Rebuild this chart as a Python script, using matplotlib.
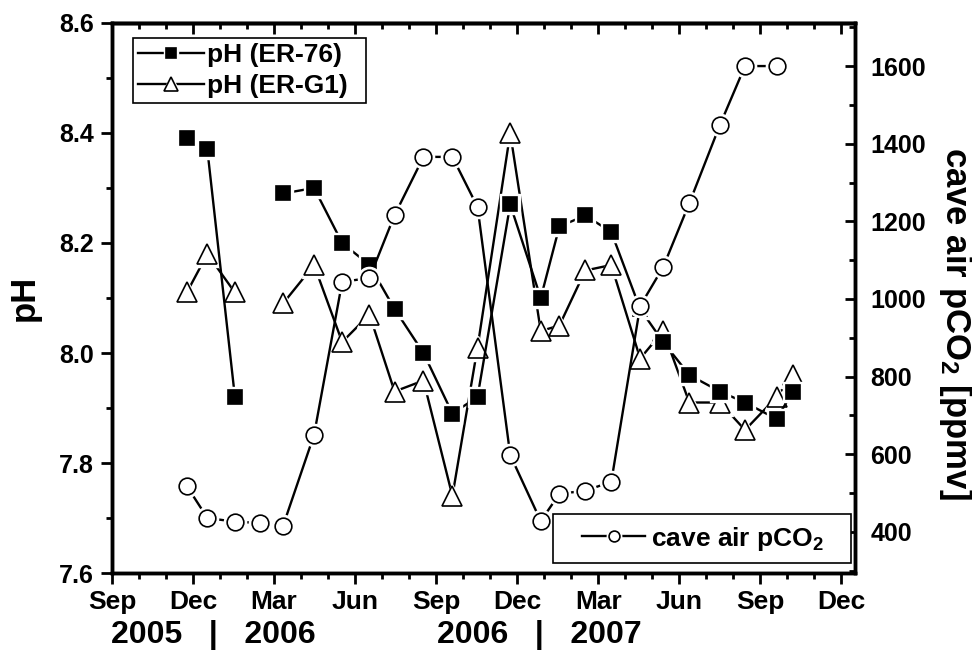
import numpy as np
import matplotlib.pyplot as plt
from matplotlib.ticker import MultipleLocator
from matplotlib.legend_handler import HandlerTuple

plt.rcParams['font.family'] = ['Liberation Sans', 'DejaVu Sans']
plt.rcParams['font.weight'] = 'bold'
plt.rcParams['axes.labelweight'] = 'bold'
plt.rcParams['mathtext.fontset'] = 'custom'
plt.rcParams['mathtext.rm'] = 'Liberation Sans:bold'
plt.rcParams['mathtext.default'] = 'rm'

# sampling dates, months after 1 Sep 2005
months = [2.77, 3.53, 4.55, 5.48, 6.33, 7.48, 8.52, 9.53, 10.46, 11.53, 12.6, 13.53,
          14.74, 15.87, 16.56, 17.52, 18.48, 19.55, 20.4, 21.37, 22.5, 23.43, 24.6, 25.2]
ph_er76 = [8.39, 8.37, 7.92, np.nan, 8.29, 8.30, 8.20, 8.16, 8.08, 8.00, 7.89, 7.92,
           8.27, 8.10, 8.23, 8.25, 8.22, 8.08, 8.02, 7.96, 7.93, 7.91, 7.88, 7.93]
ph_erg1 = [8.11, 8.18, 8.11, np.nan, 8.09, 8.16, 8.02, 8.07, 7.93, 7.95, 7.74, 8.01,
           8.40, 8.04, 8.05, 8.15, 8.16, 7.99, 8.04, 7.91, 7.91, 7.86, 7.92, 7.96]
pco2 = [518, 436, 426, 423, 415, 650, 1044, 1054, 1216, 1366, 1366, 1237,
        598, 428, 498, 506, 529, 982, 1082, 1247, 1448, 1600, 1600, np.nan]

tick_months = list(range(0, 28, 3))
tick_labels = ['Sep', 'Dec', 'Mar', 'Jun', 'Sep', 'Dec', 'Mar', 'Jun', 'Sep', 'Dec']
year_labels = ['2005   |   2006', '2006   |   2007']
year_pos = [3.74, 15.8]


def series(a, x, y, marker, ms, face):
    # line, white gap around marker, marker (Origin style)
    ln, = a.plot(x, y, '-', color='k', lw=1.7)
    halo, = a.plot(x, y, ls='none', marker=marker, ms=ms + 4, mfc='w', mec='w')
    mk, = a.plot(x, y, ls='none', marker=marker, ms=ms, mfc=face, mec='k', mew=1.2)
    return (ln, halo, mk)


fig = plt.figure(figsize=(9.72, 6.62), dpi=100)
ax = fig.add_axes([0.1152, 0.1344, 0.7644, 0.8309])
ax2 = ax.twinx()

h_g1 = series(ax, months, ph_erg1, '^', 14, 'w')
h_76 = series(ax, months, ph_er76, 's', 10, 'k')
h_co2 = series(ax2, months, pco2, 'o', 12, 'w')

ax.set_xlim(0, 27.5)
ax.set_ylim(7.6, 8.6)
ax2.set_ylim(294, 1711)

ax.set_xticks(tick_months)
ax.set_xticklabels(tick_labels)
ax.xaxis.set_minor_locator(MultipleLocator(1))
ax.yaxis.set_major_locator(MultipleLocator(0.2))
ax.yaxis.set_minor_locator(MultipleLocator(0.1))
ax.yaxis.set_major_formatter(plt.FormatStrFormatter('%.1f'))
ax2.yaxis.set_major_locator(MultipleLocator(200))
ax2.yaxis.set_minor_locator(MultipleLocator(100))

ax.tick_params(axis='both', which='major', direction='out', length=8, width=2, labelsize=18, pad=5)
ax.tick_params(axis='x', which='major', labelsize=19, pad=4)
ax.tick_params(axis='both', which='minor', direction='out', length=4.5, width=2)
ax.tick_params(axis='y', right=False, which='both')
ax.tick_params(axis='x', top=False, which='both')
ax2.tick_params(axis='y', which='major', direction='in', length=7, width=2, labelsize=18, pad=11)
ax2.tick_params(axis='y', which='minor', direction='in', length=4, width=2)

top = ax.secondary_xaxis('top')
top.set_xticks(tick_months)
top.xaxis.set_minor_locator(MultipleLocator(1))
top.tick_params(which='major', direction='in', length=8, width=2, labeltop=False)
top.tick_params(which='minor', direction='in', length=4.5, width=2)

for a in (ax, ax2, top):
    for s in a.spines.values():
        s.set_linewidth(2.5)

ax.set_ylabel('pH', fontsize=25)
ax.yaxis.set_label_coords(-0.118, 0.5)
ax.yaxis.label.set_va('center')
ax2.set_ylabel('cave air pCO$_2$ [ppmv]', fontsize=25, rotation=270)
ax2.yaxis.set_label_coords(1.135, 0.453)
ax2.yaxis.label.set_va('center')
ax2.yaxis.label.set_ha('center')

for lab, xp in zip(year_labels, year_pos):
    ax.text(xp, -0.112, lab, transform=ax.get_xaxis_transform(), ha='center', va='center',
            fontsize=23, fontweight='bold')

leg1 = ax.legend([h_76, h_g1], ['pH (ER-76)', 'pH (ER-G1)'], loc='upper left',
                 bbox_to_anchor=(0.0283, 0.0, 0.3136, 0.9727), mode='expand',
                 borderaxespad=0, fontsize=19, markerscale=0.7, handlelength=2.5,
                 handletextpad=0.1, labelspacing=0.25, borderpad=0.2,
                 fancybox=False, edgecolor='k', framealpha=1)
leg1.get_frame().set_linewidth(1.2)
leg2 = ax2.legend([h_co2], ['cave air pCO$_2$'], loc='lower left',
                  bbox_to_anchor=(0.5935, 0.018, 0.401, 0.0), mode='expand',
                  borderaxespad=0, fontsize=19,
                  handler_map={tuple: HandlerTuple(ndivide=1, xpad=0.72)},
                  markerscale=0.65, handlelength=3.1, handletextpad=0.2, borderpad=0.4,
                  fancybox=False, edgecolor='k', framealpha=1)
leg2.get_frame().set_linewidth(1.2)

plt.savefig('out.png', dpi=100)
